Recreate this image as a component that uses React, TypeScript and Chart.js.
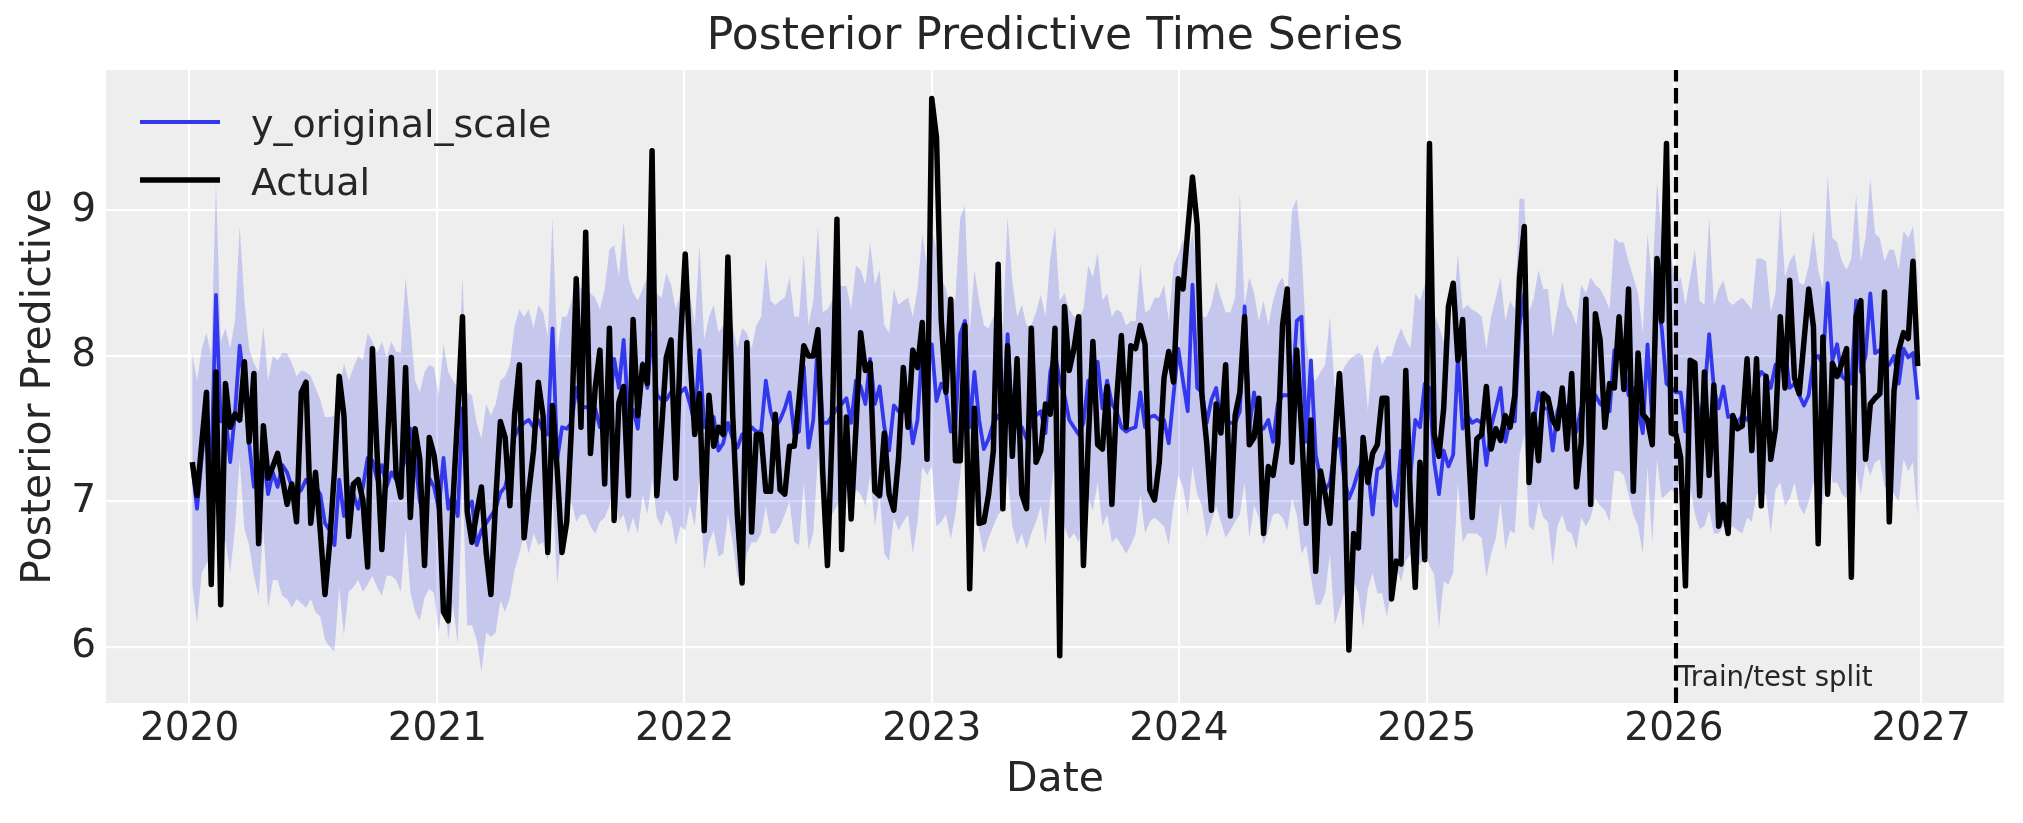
import React, { useEffect, useRef } from "react";
import { Chart, registerables } from "chart.js";

Chart.register(...registerables);

// ---------------- data ----------------
const START_DATE = "2020-01-05"; // first weekly observation
const SPLIT_DATE = "2026-01-04";
const SPLIT_LABEL = "Train/test split";
const SPLIT_LABEL_Y = 5.73;
const TITLE = "Posterior Predictive Time Series";
const X_LABEL = "Date";
const Y_LABEL = "Posterior Predictive";
const YEAR_TICKS = [2020, 2021, 2022, 2023, 2024, 2025, 2026, 2027];
const Y_TICKS = [6, 7, 8, 9];
const Y_MIN = 5.615;
const Y_MAX = 9.965;

const actual = [
  7.27, 7.04, 7.40, 7.75, 6.43, 7.89, 6.29, 7.81, 7.51, 7.60,
  7.56, 7.96, 7.41, 7.88, 6.71, 7.52, 7.16, 7.24, 7.33, 7.16,
  6.98, 7.12, 6.86, 7.75, 7.82, 6.85, 7.20, 6.80, 6.36, 6.72,
  7.21, 7.86, 7.59, 6.76, 7.12, 7.15, 7.01, 6.55, 8.05, 7.32,
  6.67, 7.28, 7.99, 7.19, 7.03, 7.92, 6.89, 7.50, 7.29, 6.56,
  7.44, 7.32, 7.05, 6.24, 6.18, 7.00, 7.60, 8.27, 6.93, 6.72,
  6.92, 7.10, 6.65, 6.36, 7.00, 7.55, 7.44, 6.97, 7.60, 7.94,
  6.75, 7.07, 7.35, 7.82, 7.59, 6.65, 7.66, 7.21, 6.65, 6.86,
  7.51, 8.53, 7.51, 8.85, 7.33, 7.78, 8.04, 7.12, 8.19, 6.87,
  7.68, 7.79, 7.04, 8.25, 7.59, 7.94, 7.81, 9.41, 7.04, 7.50,
  7.99, 8.11, 7.16, 8.10, 8.70, 8.00, 7.46, 7.74, 6.80, 7.73,
  7.38, 7.51, 7.46, 8.68, 7.60, 6.90, 6.44, 8.09, 6.79, 7.46,
  7.46, 7.07, 7.07, 7.60, 7.08, 7.05, 7.38, 7.38, 7.70, 8.07,
  8.00, 8.00, 8.18, 7.20, 6.56, 7.50, 8.94, 6.67, 7.58, 6.88,
  7.50, 8.16, 7.90, 7.95, 7.07, 7.04, 7.47, 7.05, 6.94, 7.30,
  7.92, 7.51, 8.04, 7.92, 8.23, 7.29, 9.77, 9.50, 8.25, 7.75,
  8.39, 7.28, 7.28, 8.21, 6.40, 7.64, 6.85, 6.86, 7.05, 7.35,
  8.63, 6.95, 8.07, 7.31, 7.98, 7.05, 6.95, 8.19, 7.27, 7.35,
  7.67, 7.60, 8.19, 5.94, 8.34, 7.90, 8.05, 8.27, 6.56, 7.40,
  8.10, 7.39, 7.36, 7.79, 6.98, 7.70, 8.14, 7.51, 8.07, 8.05,
  8.21, 8.08, 7.08, 7.01, 7.27, 7.85, 8.03, 7.82, 8.53, 8.46,
  8.86, 9.23, 8.90, 7.73, 7.40, 6.94, 7.67, 7.47, 7.94, 6.90,
  7.59, 7.75, 8.27, 7.39, 7.44, 7.71, 6.78, 7.24, 7.18, 7.40,
  8.21, 8.46, 7.27, 8.04, 7.50, 6.85, 7.56, 6.52, 7.21, 7.05,
  6.85, 7.40, 7.88, 7.37, 5.98, 6.78, 6.68, 7.44, 7.13, 7.33,
  7.39, 7.71, 7.71, 6.33, 6.59, 6.57, 7.90, 7.00, 6.41, 7.27,
  6.60, 9.46, 7.46, 7.31, 7.64, 8.34, 8.50, 7.97, 8.25, 7.50,
  6.89, 7.43, 7.46, 7.79, 7.36, 7.50, 7.42, 7.59, 7.51, 7.73,
  8.54, 8.89, 7.13, 7.60, 7.28, 7.74, 7.71, 7.56, 7.50, 7.78,
  7.36, 7.88, 7.10, 7.40, 8.39, 6.98, 8.29, 8.11, 7.51, 7.81,
  7.78, 8.27, 7.77, 8.46, 7.07, 8.02, 7.60, 7.56, 7.39, 8.67,
  8.24, 9.46, 7.47, 7.46, 7.30, 6.42, 7.97, 7.95, 7.04, 7.89,
  7.18, 7.80, 6.83, 6.98, 6.78, 7.59, 7.50, 7.52, 7.98, 7.35,
  7.98, 6.97, 7.86, 7.29, 7.50, 8.27, 7.78, 8.52, 7.85, 7.74,
  8.10, 8.46, 8.20, 6.71, 8.13, 7.05, 7.95, 7.86, 7.95, 8.05,
  6.48, 8.27, 8.38, 7.29, 7.67, 7.71, 7.74, 8.44, 6.86, 7.76,
  8.04, 8.16, 8.12, 8.65, 7.93,
];

const predMean = [
  7.25, 6.95, 7.30, 7.60, 7.20, 8.42, 7.55, 7.60, 7.27, 7.60,
  8.07, 7.80, 7.40, 7.10, 7.20, 7.30, 7.05, 7.20, 7.10, 7.25,
  7.20, 7.10, 7.05, 7.08, 7.15, 7.10, 7.10, 7.05, 6.85, 6.80,
  6.70, 7.15, 6.90, 7.10, 7.05, 6.95, 7.10, 7.30, 7.28, 7.15,
  7.25, 7.10, 7.20, 7.15, 7.20, 7.30, 7.50, 7.30, 7.00, 6.90,
  7.16, 7.10, 6.95, 7.30, 6.95, 7.05, 6.90, 7.64, 6.95, 7.00,
  6.70, 6.80, 6.85, 6.90, 6.95, 7.06, 7.10, 7.24, 7.45, 7.51,
  7.54, 7.56, 7.51, 7.56, 7.48, 7.46, 8.19, 7.29, 7.51, 7.50,
  7.54, 7.78, 7.64, 7.65, 7.64, 7.64, 7.51, 7.64, 7.59, 7.98,
  7.78, 8.11, 7.59, 7.63, 7.50, 7.95, 7.78, 8.16, 7.73, 7.70,
  7.70, 7.75, 7.70, 7.75, 7.78, 7.67, 7.54, 8.04, 7.51, 7.59,
  7.58, 7.35, 7.40, 7.54, 7.43, 7.37, 7.46, 7.46, 7.51, 7.48,
  7.48, 7.83, 7.62, 7.51, 7.56, 7.64, 7.75, 7.46, 7.48, 7.93,
  7.37, 7.56, 8.13, 7.54, 7.54, 7.59, 7.64, 7.67, 7.71, 7.54,
  7.83, 7.79, 7.67, 7.98, 7.67, 7.79, 7.51, 7.35, 7.66, 7.62,
  7.62, 7.67, 7.40, 7.56, 8.08, 8.02, 8.08, 7.69, 7.81, 7.75,
  7.48, 7.51, 8.15, 8.24, 7.51, 7.89, 7.56, 7.36, 7.43, 7.54,
  7.59, 7.54, 8.15, 7.54, 7.51, 7.51, 7.43, 7.54, 7.59, 7.62,
  7.47, 7.89, 8.02, 7.83, 7.73, 7.56, 7.51, 7.46, 7.54, 7.83,
  7.77, 7.96, 7.64, 7.83, 7.67, 7.62, 7.51, 7.48, 7.50, 7.51,
  7.75, 7.51, 7.58, 7.59, 7.56, 7.56, 7.40, 7.73, 8.05, 7.83,
  7.62, 8.49, 7.78, 7.75, 7.54, 7.70, 7.78, 7.54, 7.56, 7.54,
  7.54, 7.62, 8.34, 7.51, 7.75, 7.51, 7.50, 7.56, 7.41, 7.67,
  7.73, 7.73, 7.73, 8.24, 8.27, 7.41, 7.97, 7.32, 7.16, 7.08,
  7.13, 7.35, 7.43, 7.16, 7.02, 7.10, 7.21, 7.29, 7.24, 6.91,
  7.22, 7.24, 7.35, 7.08, 6.97, 7.35, 7.35, 7.18, 7.56, 7.51,
  7.81, 7.78, 7.27, 7.05, 7.35, 7.24, 7.32, 7.99, 7.50, 7.59,
  7.54, 7.56, 7.54, 7.25, 7.51, 7.64, 7.78, 7.41, 7.56, 7.55,
  8.21, 8.43, 7.51, 7.54, 7.75, 7.64, 7.64, 7.35, 7.62, 7.70,
  7.64, 7.59, 7.48, 7.64, 7.73, 7.75, 7.73, 7.67, 7.64, 7.62,
  8.04, 8.00, 7.94, 7.73, 7.78, 7.64, 7.47, 8.08, 7.54, 8.38,
  8.19, 7.81, 7.78, 7.75, 7.75, 7.48, 7.95, 7.83, 7.54, 7.73,
  8.15, 7.78, 7.64, 7.79, 7.58, 7.59, 7.54, 7.59, 7.56, 7.64,
  7.83, 7.89, 7.86, 7.78, 7.94, 7.94, 8.05, 7.78, 7.81, 7.73,
  7.66, 7.73, 7.97, 8.00, 7.94, 8.50, 7.97, 8.08, 7.86, 7.83,
  7.81, 8.38, 7.89, 8.00, 8.43, 8.02, 8.04, 7.92, 7.94, 8.00,
  7.81, 8.05, 7.99, 8.02, 7.70,
];

const hdiUpper = [
  8.02, 7.83, 8.05, 8.16, 8.00, 9.19, 8.10, 8.19, 8.05, 8.24,
  8.89, 8.38, 8.05, 7.95, 7.89, 8.20, 7.83, 8.00, 7.97, 8.02,
  8.02, 7.95, 7.86, 7.90, 7.89, 7.86, 7.78, 7.70, 7.58, 7.58,
  7.59, 7.75, 7.95, 7.83, 7.92, 8.00, 7.97, 8.16, 8.10, 8.02,
  8.10, 7.99, 8.10, 8.03, 8.02, 8.54, 8.21, 7.83, 7.75, 7.89,
  7.94, 7.92, 7.73, 8.08, 7.89, 7.83, 7.78, 8.54, 7.75, 7.73,
  7.54, 7.43, 7.67, 7.59, 7.67, 7.83, 7.86, 7.94, 8.21, 8.32,
  8.27, 8.32, 8.19, 8.35, 8.30, 8.13, 8.95, 8.02, 8.27, 8.27,
  8.38, 8.57, 8.46, 8.49, 8.43, 8.40, 8.32, 8.46, 8.73, 8.76,
  8.54, 8.92, 8.54, 8.43, 8.38, 8.46, 8.54, 8.73, 8.43, 8.40,
  8.57, 8.49, 8.32, 8.43, 8.65, 8.43, 8.21, 8.76, 8.11, 8.27,
  8.35, 8.16, 8.21, 8.13, 8.21, 8.05, 8.19, 8.16, 8.05, 8.21,
  8.27, 8.67, 8.38, 8.35, 8.38, 8.40, 8.54, 8.27, 8.27, 8.70,
  8.21, 8.38, 8.89, 8.30, 8.32, 8.38, 8.49, 8.48, 8.48, 8.32,
  8.62, 8.59, 8.49, 8.78, 8.49, 8.59, 8.21, 8.16, 8.46, 8.35,
  8.38, 8.40, 8.27, 8.46, 8.84, 8.62, 8.86, 8.73, 8.54, 8.46,
  8.32, 8.40, 8.95, 9.03, 8.16, 8.59, 8.38, 8.21, 8.19, 8.27,
  8.32, 8.21, 8.95, 8.51, 8.27, 8.35, 8.21, 8.21, 8.30, 8.42,
  8.27, 8.67, 8.89, 8.38, 8.43, 8.32, 8.27, 8.27, 8.32, 8.62,
  8.54, 8.71, 8.38, 8.43, 8.27, 8.32, 8.30, 8.21, 8.24, 8.24,
  8.63, 8.30, 8.32, 8.40, 8.40, 8.49, 8.24, 8.62, 8.70, 8.80,
  8.65, 8.86, 8.57, 8.27, 8.27, 8.35, 8.51, 8.40, 8.30, 8.30,
  8.40, 9.11, 8.35, 8.54, 8.43, 8.24, 8.38, 8.21, 8.38, 8.49,
  8.54, 8.40, 9.00, 9.08, 8.73, 8.11, 7.86, 7.83, 7.89, 7.94,
  8.27, 7.78, 7.83, 7.92, 7.97, 8.00, 8.02, 8.00, 7.62, 8.00,
  8.08, 7.94, 8.00, 8.00, 8.11, 8.19, 8.11, 8.05, 8.43, 8.38,
  8.49, 8.70, 8.30, 8.20, 8.10, 8.10, 8.30, 8.70, 8.32, 8.35,
  8.32, 8.30, 8.27, 8.05, 8.27, 8.40, 8.54, 8.24, 8.38, 8.32,
  9.08, 9.08, 8.30, 8.40, 8.59, 8.46, 8.46, 8.13, 8.32, 8.51,
  8.35, 8.30, 8.21, 8.49, 8.43, 8.54, 8.49, 8.46, 8.40, 8.32,
  8.81, 8.78, 8.78, 8.65, 8.54, 8.43, 8.16, 8.84, 8.51, 9.19,
  8.81, 8.97, 8.67, 8.49, 8.54, 8.35, 8.54, 8.73, 8.38, 8.35,
  8.95, 8.35, 8.46, 8.52, 8.38, 8.35, 8.38, 8.40, 8.36, 8.32,
  8.67, 8.67, 8.65, 8.30, 8.43, 9.03, 8.54, 8.65, 8.70, 8.50,
  8.49, 8.62, 8.86, 8.59, 8.46, 9.24, 8.81, 8.78, 8.65, 8.59,
  8.67, 9.11, 8.65, 8.81, 9.22, 8.84, 8.81, 8.65, 8.73, 8.73,
  8.59, 8.86, 8.81, 8.89, 8.54,
];

const hdiLower = [
  6.43, 6.16, 6.51, 6.57, 6.64, 7.40, 6.60, 6.73, 6.51, 6.81,
  7.29, 6.81, 6.70, 6.49, 6.35, 6.81, 6.27, 6.46, 6.46, 6.35,
  6.33, 6.27, 6.33, 6.30, 6.27, 6.33, 6.24, 6.21, 6.05, 6.00,
  5.97, 6.41, 6.08, 6.38, 6.41, 6.46, 6.38, 6.43, 6.49, 6.41,
  6.35, 6.49, 6.49, 6.46, 6.38, 6.81, 6.38, 6.24, 6.18, 6.34,
  6.40, 6.37, 6.10, 6.43, 6.05, 6.29, 6.02, 7.16, 6.15, 6.15,
  6.05, 5.83, 6.10, 6.07, 6.10, 6.32, 6.24, 6.34, 6.53, 6.64,
  6.78, 6.64, 6.78, 6.70, 6.72, 6.59, 7.05, 6.43, 6.78, 6.91,
  7.00, 6.86, 6.91, 6.91, 6.83, 6.78, 6.86, 6.89, 6.97, 7.18,
  6.86, 6.91, 6.78, 6.89, 6.78, 7.05, 6.91, 7.16, 6.89, 6.83,
  6.94, 6.89, 6.70, 6.83, 6.80, 6.97, 6.83, 7.18, 6.53, 6.72,
  6.80, 6.62, 6.64, 6.91, 6.72, 6.48, 6.45, 6.64, 6.72, 6.72,
  6.78, 6.97, 6.78, 6.78, 6.83, 6.91, 7.00, 6.72, 6.70, 7.13,
  6.67, 6.78, 7.32, 6.83, 6.83, 6.91, 6.97, 7.05, 7.10, 6.89,
  7.08, 7.05, 6.97, 7.18, 6.83, 7.05, 6.64, 6.59, 6.89, 6.80,
  6.86, 6.91, 6.64, 6.86, 7.24, 7.18, 7.24, 6.83, 6.86, 6.91,
  6.74, 6.91, 7.18, 7.46, 6.75, 7.02, 6.80, 6.64, 6.75, 6.83,
  6.91, 6.94, 7.18, 6.83, 6.70, 6.78, 6.67, 6.78, 6.86, 6.97,
  6.70, 7.02, 7.29, 7.05, 6.83, 6.74, 6.78, 6.72, 6.86, 7.02,
  6.94, 7.13, 6.83, 6.91, 6.72, 6.75, 6.70, 6.64, 6.70, 6.78,
  7.05, 6.78, 6.86, 6.89, 6.86, 6.83, 6.70, 6.97, 7.18, 7.10,
  6.91, 7.24, 7.05, 6.97, 6.75, 6.86, 6.97, 6.86, 6.75, 6.80,
  6.86, 6.91, 7.13, 6.75, 6.97, 6.89, 6.70, 6.80, 6.91, 6.92,
  6.89, 6.80, 7.02, 6.91, 6.64, 6.70, 6.48, 6.29, 6.29, 6.37,
  6.64, 6.15, 6.26, 6.37, 6.32, 6.45, 6.37, 6.13, 6.40, 6.51,
  6.37, 6.37, 6.21, 6.40, 6.56, 6.45, 6.59, 6.64, 6.62, 6.56,
  6.64, 6.56, 6.50, 6.13, 6.45, 6.43, 6.51, 7.13, 6.72, 6.78,
  6.78, 6.78, 6.75, 6.48, 6.64, 6.75, 7.00, 6.67, 6.80, 6.78,
  7.32, 7.46, 6.83, 6.80, 7.00, 6.89, 6.86, 6.56, 6.83, 6.91,
  6.80, 6.78, 6.67, 6.89, 6.83, 6.89, 7.02, 6.97, 6.94, 6.86,
  7.21, 7.21, 7.18, 7.05, 6.91, 6.83, 6.64, 7.24, 6.72, 7.29,
  7.02, 7.05, 7.08, 7.05, 7.18, 7.05, 7.10, 6.91, 6.81, 6.83,
  6.94, 6.78, 6.78, 6.83, 6.80, 6.83, 6.80, 6.78, 6.89, 6.86,
  7.05, 7.05, 7.05, 6.78, 7.08, 7.13, 6.97, 7.02, 7.13, 6.97,
  6.91, 7.00, 7.13, 7.05, 6.97, 7.46, 7.13, 7.13, 7.05, 7.02,
  7.02, 7.21, 7.05, 7.27, 7.18, 7.27, 7.29, 7.10, 7.10, 7.05,
  7.00, 7.29, 7.21, 7.27, 6.89,
];

// ---------------- styling ----------------
const FONT = "'DejaVu Sans', 'Liberation Sans', sans-serif";
const TEXT = "#262626";
const BLUE = "rgb(52, 56, 236)";
const BAND = "rgba(42, 46, 236, 0.2)";
const W = 2023;
const H = 823;

const DAY_MS = 86400000;
const dayOf = (iso: string) => Date.parse(iso + "T00:00:00Z") / DAY_MS;
const startDay = dayOf(START_DATE);
const splitDay = dayOf(SPLIT_DATE);
const xDays = actual.map((_, i) => startDay + 7 * i);
const xSpan = xDays[xDays.length - 1] - xDays[0];
const X_MIN = xDays[0] - 0.05 * xSpan;
const X_MAX = xDays[xDays.length - 1] + 0.05 * xSpan;
const yearTickDays = YEAR_TICKS.map((y) => Date.UTC(y, 0, 1) / DAY_MS);

const pts = (vals: number[]) => vals.map((v, i) => ({ x: xDays[i], y: v }));

const overlayPlugin = {
  id: "overlay",
  beforeDraw(chart: any) {
    const { ctx, chartArea: a, width, height } = chart;
    ctx.save();
    ctx.fillStyle = "#ffffff";
    ctx.fillRect(0, 0, width, height);
    ctx.fillStyle = "#eeeeee";
    ctx.fillRect(a.left, a.top, a.right - a.left, a.bottom - a.top);
    ctx.restore();
  },
  afterDatasetsDraw(chart: any) {
    const { ctx, chartArea: a, scales } = chart;
    const sx = scales.x.getPixelForValue(splitDay);
    ctx.save();
    // split line
    ctx.strokeStyle = "#000000";
    ctx.lineWidth = 4.2;
    ctx.setLineDash([15.5, 6.7]);
    ctx.beginPath();
    ctx.moveTo(sx, a.bottom);
    ctx.lineTo(sx, a.top);
    ctx.stroke();
    ctx.setLineDash([]);
    // split label
    ctx.fillStyle = TEXT;
    ctx.font = `27.5px ${FONT}`;
    ctx.textAlign = "left";
    ctx.textBaseline = "alphabetic";
    ctx.fillText(SPLIT_LABEL, sx + 2, scales.y.getPixelForValue(SPLIT_LABEL_Y));
    // legend
    const items = chart.data.datasets.filter((d: any) => d.showInLegend);
    items.forEach((d: any, k: number) => {
      const lineY = a.top + 52 + k * 58;
      ctx.strokeStyle = d.borderColor;
      ctx.lineWidth = d.borderWidth;
      ctx.lineCap = "butt";
      ctx.beginPath();
      ctx.moveTo(a.left + 34, lineY);
      ctx.lineTo(a.left + 114, lineY);
      ctx.stroke();
      ctx.fillStyle = TEXT;
      ctx.font = `38px ${FONT}`;
      ctx.textBaseline = "alphabetic";
      ctx.fillText(d.label, a.left + 145, lineY + 15);
    });
    ctx.restore();
  },
};

export default function App() {
  const ref = useRef<HTMLCanvasElement | null>(null);

  useEffect(() => {
    if (!ref.current) return;
    const chart = new Chart(ref.current, {
      type: "line",
      data: {
        datasets: [
          {
            label: "hdi_lower",
            data: pts(hdiLower),
            borderColor: "rgba(0,0,0,0)",
            borderWidth: 1,
            pointRadius: 0,
            fill: false,
            order: 3,
          },
          {
            label: "hdi_upper",
            data: pts(hdiUpper),
            borderColor: "rgba(0,0,0,0)",
            borderWidth: 1,
            backgroundColor: BAND,
            pointRadius: 0,
            fill: "-1",
            order: 2,
          },
          {
            label: "y_original_scale",
            data: pts(predMean),
            borderColor: BLUE,
            borderWidth: 3.8,
            pointRadius: 0,
            fill: false,
            borderJoinStyle: "round",
            order: 1,
            showInLegend: true,
          } as any,
          {
            label: "Actual",
            data: pts(actual),
            borderColor: "#000000",
            borderWidth: 5.5,
            pointRadius: 0,
            fill: false,
            borderJoinStyle: "round",
            order: 0,
            showInLegend: true,
          } as any,
        ],
      },
      options: {
        responsive: false,
        animation: false,
        events: [],
        layout: { padding: { left: 0, right: 19, top: 0, bottom: 0 } },
        elements: { line: { tension: 0 } },
        plugins: {
          legend: { display: false },
          tooltip: { enabled: false },
          title: {
            display: true,
            text: TITLE,
            color: TEXT,
            fullSize: false,
            font: { family: FONT, size: 44, weight: "normal" },
            padding: { top: 11.6, bottom: 5.6 },
          },
        },
        scales: {
          x: {
            type: "linear",
            min: X_MIN,
            max: X_MAX,
            afterBuildTicks: (s: any) => {
              s.ticks = yearTickDays.map((v) => ({ value: v }));
            },
            afterFit: (s: any) => {
              s.height = 120;
            },
            ticks: {
              autoSkip: false,
              maxRotation: 0,
              padding: 3,
              color: TEXT,
              font: { family: FONT, size: 39 },
              callback: (v: any) => String(new Date(Number(v) * DAY_MS).getUTCFullYear()),
            },
            grid: { color: "#ffffff", lineWidth: 2.2, drawTicks: false },
            border: { display: false },
            title: {
              display: true,
              text: X_LABEL,
              color: TEXT,
              font: { family: FONT, size: 41 },
              padding: { top: 0, bottom: 18 },
            },
          },
          y: {
            type: "linear",
            min: Y_MIN,
            max: Y_MAX,
            afterBuildTicks: (s: any) => {
              s.ticks = Y_TICKS.map((v) => ({ value: v }));
            },
            afterFit: (s: any) => {
              s.width = 106;
            },
            ticks: {
              padding: 10,
              color: TEXT,
              font: { family: FONT, size: 39 },
              callback: (v: any) => String(v),
            },
            grid: { color: "#ffffff", lineWidth: 2.2, drawTicks: false },
            border: { display: false },
            title: {
              display: true,
              text: Y_LABEL,
              color: TEXT,
              font: { family: FONT, size: 41 },
              padding: { top: 15, bottom: 0 },
            },
          },
        },
      } as any,
      plugins: [overlayPlugin],
    });
    return () => chart.destroy();
  }, []);

  return (
    <canvas
      ref={ref}
      width={W}
      height={H}
      style={{ position: "absolute", left: 0, top: 0, width: W + "px", height: H + "px" }}
    />
  );
}
